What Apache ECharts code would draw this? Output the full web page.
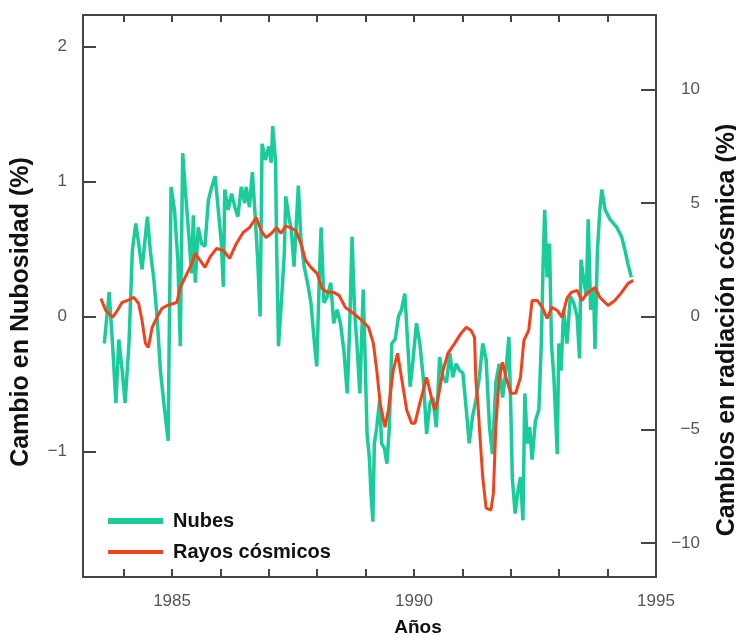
<!DOCTYPE html>
<html>
<head>
<meta charset="utf-8">
<script src="https://cdn.jsdelivr.net/npm/echarts@6/dist/echarts.min.js"></script>
<style>
  html, body { margin: 0; padding: 0; background: #fff; }
  #chart { width: 736px; height: 637px; }
</style>
</head>
<body>
<div id="chart"></div>
<script>
// nubes (eje izq, %) y rayos cosmicos (eje der, %)
var nubesYears = [
  1983.60, 1983.70, 1983.77, 1983.84, 1983.90, 1983.97, 1984.03, 1984.11, 1984.18, 1984.25,
  1984.31, 1984.38, 1984.49, 1984.55, 1984.62, 1984.69, 1984.76, 1984.83, 1984.92, 1984.94,
  1984.98, 1985.05, 1985.12, 1985.17, 1985.22, 1985.28, 1985.35, 1985.40, 1985.44, 1985.48,
  1985.54, 1985.61, 1985.68, 1985.75, 1985.82, 1985.89, 1985.95, 1986.02, 1986.06, 1986.09,
  1986.16, 1986.23, 1986.30, 1986.36, 1986.43, 1986.50, 1986.53, 1986.60, 1986.66, 1986.71,
  1986.77, 1986.82, 1986.86, 1986.93, 1987.00, 1987.05, 1987.08, 1987.14, 1987.16, 1987.20,
  1987.27, 1987.32, 1987.35, 1987.42, 1987.46, 1987.52, 1987.61, 1987.66, 1987.73, 1987.80,
  1987.87, 1987.93, 1987.99, 1988.04, 1988.08, 1988.14, 1988.21, 1988.28, 1988.34, 1988.41,
  1988.48, 1988.55, 1988.62, 1988.67, 1988.72, 1988.77, 1988.82, 1988.88, 1988.95, 1988.99,
  1989.03, 1989.08, 1989.11, 1989.15, 1989.18, 1989.23, 1989.29, 1989.33, 1989.39, 1989.44,
  1989.49, 1989.54, 1989.61, 1989.68, 1989.74, 1989.81, 1989.87, 1989.92, 1989.98, 1990.05,
  1990.12, 1990.19, 1990.26, 1990.33, 1990.39, 1990.46, 1990.53, 1990.60, 1990.67, 1990.74,
  1990.80, 1990.87, 1990.94, 1991.01, 1991.08, 1991.14, 1991.21, 1991.28, 1991.35, 1991.42,
  1991.49, 1991.56, 1991.62, 1991.69, 1991.76, 1991.83, 1991.90, 1991.96, 1992.00, 1992.03,
  1992.09, 1992.14, 1992.20, 1992.25, 1992.29, 1992.34, 1992.39, 1992.44, 1992.51, 1992.58,
  1992.63, 1992.67, 1992.70, 1992.75, 1992.80, 1992.84, 1992.89, 1992.96, 1992.99, 1993.04,
  1993.09, 1993.16, 1993.23, 1993.30, 1993.37, 1993.42, 1993.45, 1993.50, 1993.56, 1993.60,
  1993.65, 1993.71, 1993.74, 1993.79, 1993.84, 1993.88, 1993.95, 1994.05, 1994.19, 1994.29,
  1994.36, 1994.42, 1994.49
];
var nubesValues = [
  -0.20, 0.18, -0.20, -0.64, -0.17, -0.40, -0.64, -0.20, 0.49, 0.69,
  0.54, 0.35, 0.74, 0.49, 0.29, 0.00, -0.40, -0.64, -0.92, -0.20,
  0.96, 0.79, 0.42, -0.22, 1.21, 0.91, 0.59, 0.32, 0.75, 0.25,
  0.66, 0.54, 0.52, 0.86, 0.96, 1.04, 0.81, 0.54, 0.22, 0.94,
  0.79, 0.91, 0.81, 0.74, 0.96, 0.84, 0.96, 0.81, 1.07, 0.79,
  0.42, 0.00, 1.28, 1.16, 1.26, 1.14, 1.41, 1.14, 0.54, -0.22,
  0.17, 0.47, 0.89, 0.72, 0.66, 0.37, 0.97, 0.59, 0.37, 0.25,
  0.10, -0.15, -0.37, 0.25, 0.66, 0.10, 0.15, 0.25, -0.05, 0.05,
  -0.05, -0.25, -0.57, -0.08, 0.59, 0.05, -0.20, -0.57, 0.20, -0.32,
  -0.87, -1.06, -1.31, -1.52, -0.94, -0.82, -0.62, -0.94, -0.98, -1.09,
  -0.82, -0.20, -0.17, 0.00, 0.05, 0.17, -0.20, -0.52, -0.32, -0.05,
  -0.20, -0.45, -0.87, -0.64, -0.60, -0.82, -0.30, -0.45, -0.49, -0.27,
  -0.45, -0.35, -0.40, -0.42, -0.69, -0.94, -0.74, -0.62, -0.45, -0.20,
  -0.32, -0.82, -1.02, -0.49, -0.35, -0.60, -0.40, -0.15, -0.69, -1.19,
  -1.46, -1.31, -1.19, -1.51, -0.57, -0.94, -0.82, -1.06, -0.77, -0.69,
  -0.20, 0.42, 0.79, 0.29, 0.54, -0.20, -0.45, -1.02, -0.20, -0.40,
  0.05, -0.20, 0.15, 0.10, 0.00, -0.31, 0.42, 0.29, 0.15, 0.72,
  0.05, 0.20, -0.24, 0.49, 0.79, 0.94, 0.79, 0.72, 0.66, 0.59,
  0.49, 0.39, 0.29
];
var rayosYears = [
  1983.53, 1983.63, 1983.77, 1983.87, 1983.97, 1984.08, 1984.21, 1984.31, 1984.38, 1984.45,
  1984.51, 1984.59, 1984.69, 1984.79, 1984.90, 1985.03, 1985.10, 1985.17, 1985.27, 1985.41,
  1985.48, 1985.58, 1985.68, 1985.78, 1985.92, 1986.06, 1986.19, 1986.33, 1986.47, 1986.60,
  1986.74, 1986.84, 1986.94, 1987.05, 1987.16, 1987.25, 1987.35, 1987.56, 1987.66, 1987.76,
  1987.87, 1988.00, 1988.10, 1988.21, 1988.34, 1988.45, 1988.58, 1988.75, 1988.92, 1989.06,
  1989.16, 1989.23, 1989.30, 1989.40, 1989.47, 1989.57, 1989.66, 1989.74, 1989.85, 1989.95,
  1990.02, 1990.12, 1990.26, 1990.36, 1990.43, 1990.50, 1990.60, 1990.70, 1990.84, 1990.97,
  1991.08, 1991.18, 1991.25, 1991.28, 1991.32, 1991.35, 1991.42, 1991.49, 1991.59, 1991.64,
  1991.69, 1991.76, 1991.83, 1991.90, 1992.00, 1992.10, 1992.20, 1992.27, 1992.37, 1992.44,
  1992.55, 1992.65, 1992.75, 1992.85, 1992.96, 1993.06, 1993.16, 1993.25, 1993.37, 1993.47,
  1993.57, 1993.74, 1993.84, 1994.01, 1994.15, 1994.29, 1994.42, 1994.53
];
var rayosValues = [
  0.79, 0.26, -0.04, 0.26, 0.62, 0.70, 0.84, 0.57, -0.18, -1.19,
  -1.37, -0.48, -0.04, 0.35, 0.48, 0.57, 0.62, 1.28, 1.72, 2.33,
  2.78, 2.47, 2.16, 2.60, 3.00, 2.91, 2.56, 3.22, 3.70, 3.92,
  4.36, 3.79, 3.48, 3.66, 3.92, 3.66, 4.00, 3.79, 3.22, 2.47,
  2.16, 1.89, 1.23, 1.06, 1.06, 0.93, 0.40, 0.13, -0.18, -0.48,
  -1.19, -2.38, -3.83, -4.89, -4.14, -2.38, -1.63, -2.69, -4.14, -4.71,
  -4.71, -3.83, -2.69, -3.57, -4.14, -3.57, -2.38, -1.63, -1.19, -0.75,
  -0.48, -0.62, -0.93, -2.90, -3.80, -4.89, -7.10, -8.46, -8.55, -7.80,
  -4.89, -2.69, -2.03, -2.69, -3.39, -3.39, -2.69, -1.06, -0.62, 0.70,
  0.70, 0.40, -0.09, 0.40, 0.26, -0.04, 0.80, 1.06, 1.15, 0.70,
  1.01, 1.28, 0.84, 0.48, 0.70, 1.06, 1.45, 1.59
];

var yearTicks = [1984, 1985, 1986, 1987, 1988, 1989, 1990, 1991, 1992, 1993, 1994];
var yearLabels = [1985, 1990, 1995];
var leftTicks = [-1, 0, 1, 2];
var rightTicks = [-10, -5, 0, 5, 10];

var axisColor = '#444';
var labelColor = '#555';
var font = '"Liberation Sans", Arial, sans-serif';

var chart = echarts.init(document.getElementById('chart'));

function pairs(xs, ys) {
  return xs.map(function (x, i) { return [x, ys[i]]; });
}
function minus(v) {
  return v < 0 ? '\u2212' + Math.abs(v) : String(v);
}

var option = {
  animation: false,
  grid: { left: 83, right: 80, top: 15, bottom: 60 },
  legend: {
    orient: 'vertical',
    left: 103,
    top: 506,
    itemWidth: 55,
    itemHeight: 14,
    itemGap: 11,
    symbolKeepAspect: true,
    textStyle: { fontFamily: font, fontSize: 20, fontWeight: 'bold', color: '#111', padding: [0, 0, 0, 5] },
    data: [
      { name: 'Nubes', icon: 'path://M0,0H55V6H0Z' },
      { name: 'Rayos cósmicos', icon: 'path://M0,0H55V4H0Z' }
    ]
  },
  xAxis: [{
    type: 'value', min: 1983.16, max: 1995, position: 'bottom',
    axisLine: { onZero: false, lineStyle: { color: axisColor, width: 2 } },
    axisTick: { inside: true, length: 8, customValues: yearTicks, lineStyle: { color: axisColor, width: 2 } },
    axisLabel: { customValues: yearLabels, color: labelColor, fontFamily: font, fontSize: 17, margin: 16,
      formatter: function (v) { return String(v); } },
    splitLine: { show: false }
  }, {
    type: 'value', min: 1983.16, max: 1995, position: 'top',
    axisLine: { onZero: false, lineStyle: { color: axisColor, width: 2 } },
    axisTick: { inside: true, length: 7, customValues: yearTicks, lineStyle: { color: axisColor, width: 2 } },
    axisLabel: { show: false },
    splitLine: { show: false }
  }],
  yAxis: [{
    type: 'value', min: -1.93, max: 2.234, position: 'left',
    axisLine: { show: true, onZero: false, lineStyle: { color: axisColor, width: 2 } },
    axisTick: { show: true, inside: true, length: 13, customValues: leftTicks, lineStyle: { color: axisColor, width: 2 } },
    axisLabel: { customValues: leftTicks, color: labelColor, fontFamily: font, fontSize: 17, margin: 16, formatter: minus },
    splitLine: { show: false }
  }, {
    type: 'value', min: -11.5, max: 13.3, position: 'right',
    axisLine: { show: true, onZero: false, lineStyle: { color: axisColor, width: 2 } },
    axisTick: { show: true, inside: true, length: 15, customValues: rightTicks, lineStyle: { color: axisColor, width: 2 } },
    axisLabel: { customValues: rightTicks, color: labelColor, fontFamily: font, fontSize: 17, margin: 44, align: 'right', formatter: minus },
    splitLine: { show: false }
  }],
  graphic: [
    { type: 'text', x: 21, y: 312, rotation: Math.PI / 2,
      style: { text: 'Cambio en Nubosidad (%)', font: 'bold 25px ' + font, fill: '#111', align: 'center', verticalAlign: 'middle' } },
    { type: 'text', x: 727, y: 330, rotation: Math.PI / 2,
      style: { text: 'Cambios en radiación cósmica (%)', font: 'bold 25px ' + font, fill: '#111', align: 'center', verticalAlign: 'middle' } },
    { type: 'text', x: 418, y: 628,
      style: { text: 'Años', font: 'bold 19px ' + font, fill: '#111', align: 'center', verticalAlign: 'middle' } }
  ],
  series: [{
    name: 'Nubes', type: 'line', xAxisIndex: 0, yAxisIndex: 0,
    symbol: 'none', smooth: false,
    lineStyle: { color: '#19cc99', width: 3.5 },
    itemStyle: { color: '#19cc99' },
    data: pairs(nubesYears, nubesValues),
    z: 2
  }, {
    name: 'Rayos cósmicos', type: 'line', xAxisIndex: 0, yAxisIndex: 1,
    symbol: 'none', smooth: false,
    lineStyle: { color: '#f5401a', width: 3 },
    itemStyle: { color: '#f5401a' },
    data: pairs(rayosYears, rayosValues),
    z: 3
  }]
};

chart.setOption(option);
</script>
</body>
</html>
